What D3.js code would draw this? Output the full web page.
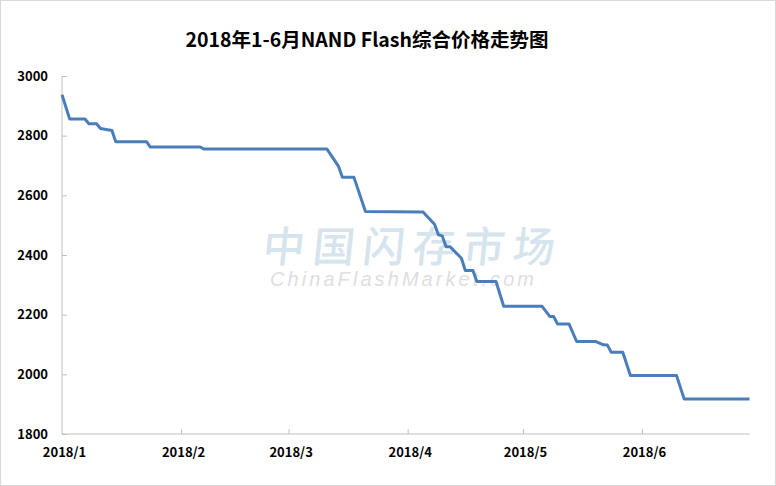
<!DOCTYPE html>
<html>
<head>
<meta charset="utf-8">
<script src="https://cdn.jsdelivr.net/npm/d3@7"></script>
<style>
  html, body { margin: 0; padding: 0; background: #fff; }
  svg { display: block; }
</style>
</head>
<body>
<svg id="chart" width="776" height="486"></svg>
<script>
// ---- data ----
const title = "2018年1-6月NAND Flash综合价格走势图";
const dates = [
  "2018-01-01","2018-01-03","2018-01-07","2018-01-08","2018-01-10","2018-01-11",
  "2018-01-14","2018-01-15","2018-01-23","2018-01-24","2018-02-06","2018-02-07",
  "2018-03-11","2018-03-14","2018-03-15","2018-03-18","2018-03-21","2018-04-05",
  "2018-04-08","2018-04-09","2018-04-10","2018-04-11","2018-04-12","2018-04-15",
  "2018-04-16","2018-04-18","2018-04-19","2018-04-24","2018-04-26","2018-05-06",
  "2018-05-08","2018-05-09","2018-05-10","2018-05-13","2018-05-15","2018-05-20",
  "2018-05-22","2018-05-23","2018-05-24","2018-05-27","2018-05-29","2018-06-10",
  "2018-06-12","2018-06-29"
];
const prices = [
  2937,2856,2856,2840,2840,2824,
  2817,2780,2780,2762,2762,2755,
  2755,2697,2661,2661,2546,2544,
  2503,2468,2464,2428,2428,2389,
  2348,2348,2311,2311,2228,2228,
  2194,2194,2169,2169,2110,2110,
  2099,2098,2074,2074,1996,1996,
  1917,1917
];
const yTicks = [1800,2000,2200,2400,2600,2800,3000];
const monthTicks = ["2018-01-01","2018-02-01","2018-03-01","2018-04-01","2018-05-01","2018-06-01"];
const monthLabels = ["2018/1","2018/2","2018/3","2018/4","2018/5","2018/6"];

// ---- drawing ----
const parse = d3.timeParse("%Y-%m-%d");
const svg = d3.select("#chart");
const W = 776, H = 486;
const font = "'Noto Sans CJK SC','Noto Sans',sans-serif";

svg.append("rect").attr("x",0.5).attr("y",0.5).attr("width",W-1).attr("height",H-1)
  .attr("fill","#fff").attr("stroke","#d9d9d9").attr("stroke-width",1);

const x = d3.scaleTime()
  .domain([parse("2018-01-01"), parse("2018-06-29")])
  .range([62, 749.5]);
const y = d3.scaleLinear().domain([1800, 3000]).range([434, 76]);

// watermark
const wm = svg.append("g").attr("pointer-events","none");
wm.append("text")
  .attr("x", 262).attr("y", 262)
  .attr("textLength", 292).attr("lengthAdjust","spacing")
  .attr("transform","skewX(-6) translate(27,0)")
  .attr("font-family","'Noto Sans CJK SC',sans-serif")
  .attr("font-size", 42).attr("font-weight", 500)
  .attr("fill","#d6e4ee")
  .text("中国闪存市场");
wm.append("text")
  .attr("x", 270).attr("y", 286)
  .attr("textLength", 264).attr("lengthAdjust","spacing")
  .attr("font-family","'Liberation Sans',Arial,sans-serif")
  .attr("font-style","italic")
  .attr("font-size", 20)
  .attr("fill","#dedede")
  .text("ChinaFlashMarket.com");

// title
svg.append("text")
  .attr("x", 367).attr("y", 47)
  .attr("text-anchor","middle")
  .attr("font-family", font)
  .attr("font-weight", 700)
  .attr("font-size", 19.5)
  .attr("fill","#000")
  .text(title);

// y axis
const yAxis = d3.axisLeft(y).tickValues(yTicks).tickSize(-5).tickPadding(14)
  .tickFormat(d3.format("d"));
const gy = svg.append("g").attr("transform","translate(62,0)").call(yAxis);
gy.select(".domain").attr("stroke","#bfbfbf").attr("d","M0,76V434");
gy.selectAll(".tick line").attr("stroke","#bfbfbf");
gy.selectAll(".tick text")
  .attr("font-family", font).attr("font-weight",700).attr("font-size",13)
  .attr("fill","#000");

// x axis
const xAxis = d3.axisBottom(x)
  .tickValues(monthTicks.map(parse))
  .tickSize(-5).tickPadding(14)
  .tickFormat((d,i) => monthLabels[i]);
const gx = svg.append("g").attr("transform","translate(0,434)").call(xAxis);
gx.select(".domain").attr("stroke","#bfbfbf").attr("d","M62,0H749.5");
gx.selectAll(".tick line").attr("stroke","#bfbfbf");
gx.selectAll(".tick").filter((d,i)=>i===0).select("line").remove();
gx.selectAll(".tick text")
  .attr("font-family", font).attr("font-weight",700).attr("font-size",13)
  .attr("fill","#000").attr("dx", 2);

// line
const data = dates.map((d,i) => ({date: parse(d), value: prices[i]}));
const line = d3.line().x(d => x(d.date)).y(d => y(d.value));
svg.append("path").datum(data)
  .attr("d", line)
  .attr("fill","none")
  .attr("stroke","#4a7ebb")
  .attr("stroke-width",3)
  .attr("stroke-linejoin","round")
  .attr("stroke-linecap","butt");
</script>
</body>
</html>
